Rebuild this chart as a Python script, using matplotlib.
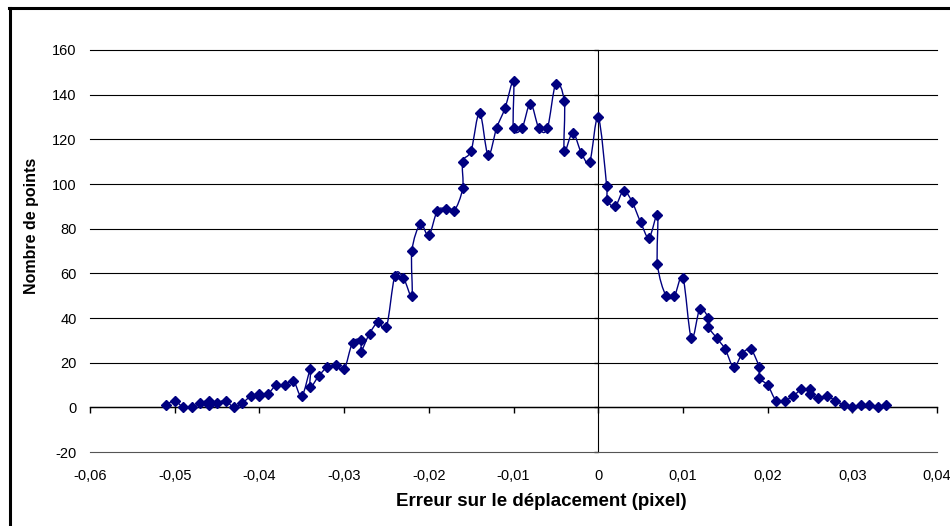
import matplotlib
matplotlib.use("Agg")
import matplotlib.pyplot as plt
from matplotlib.path import Path
from matplotlib.patches import PathPatch
from matplotlib.ticker import FuncFormatter
from matplotlib.lines import Line2D
import numpy as np

plt.rcParams['font.family'] = ['Liberation Sans', 'DejaVu Sans']

# Data
erreur = [-0.051, -0.050, -0.049, -0.048, -0.047, -0.046, -0.046, -0.045, -0.044, -0.043,
          -0.042, -0.041, -0.040, -0.040, -0.039, -0.038, -0.037, -0.036, -0.035, -0.034,
          -0.034, -0.033, -0.032, -0.031, -0.030, -0.029, -0.028, -0.028, -0.027, -0.026,
          -0.025, -0.024, -0.023, -0.022, -0.022, -0.021, -0.020, -0.019, -0.018, -0.017,
          -0.016, -0.016, -0.015, -0.014, -0.013, -0.012, -0.011, -0.010, -0.010, -0.009,
          -0.008, -0.007, -0.006, -0.005, -0.004, -0.004, -0.003, -0.002, -0.001, 0.000,
          0.001, 0.001, 0.002, 0.003, 0.004, 0.005, 0.006, 0.007, 0.007, 0.008,
          0.009, 0.010, 0.011, 0.012, 0.013, 0.013, 0.014, 0.015, 0.016, 0.017,
          0.018, 0.019, 0.019, 0.020, 0.021, 0.022, 0.023, 0.024, 0.025, 0.025,
          0.026, 0.027, 0.028, 0.029, 0.030, 0.031, 0.032, 0.033, 0.034]
nombre = [1, 3, 0, 0, 2, 3, 1, 2, 3, 0,
          2, 5, 6, 5, 6, 10, 10, 12, 5, 17,
          9, 14, 18, 19, 17, 29, 30, 25, 33, 38,
          36, 59, 58, 50, 70, 82, 77, 88, 89, 88,
          98, 110, 115, 132, 113, 125, 134, 146, 125, 125,
          136, 125, 125, 145, 137, 115, 123, 114, 110, 130,
          99, 93, 90, 97, 92, 83, 76, 86, 64, 50,
          50, 58, 31, 44, 40, 36, 31, 26, 18, 24,
          26, 18, 13, 10, 3, 3, 5, 8, 8, 6,
          4, 5, 3, 1, 0, 1, 1, 0, 1]

xticks = [-0.06, -0.05, -0.04, -0.03, -0.02, -0.01, 0.0, 0.01, 0.02, 0.03, 0.04]
yticks = [-20, 0, 20, 40, 60, 80, 100, 120, 140, 160]

fig = plt.figure(figsize=(9.5, 5.26), dpi=100)
ax = fig.add_axes([90/950, 74/526, 847/950, 402/526])
ax.set_xlim(-0.06, 0.04)
ax.set_ylim(-20, 160)

for s in ax.spines.values():
    s.set_visible(False)

# horizontal gridlines
for yv in yticks:
    ax.axhline(yv, color='#555555' if yv == -20 else 'black', lw=0.8, zorder=1, clip_on=False)

# primary ticks/labels
ax.set_xticks(xticks)
ax.set_yticks(yticks)
def fmt(v, pos):
    if abs(v) < 1e-12:
        return '0'
    return f"{v:.2f}".replace('.', ',')
ax.xaxis.set_major_formatter(FuncFormatter(fmt))
ax.yaxis.set_major_formatter(FuncFormatter(lambda v, p: f"{int(v)}"))
ax.tick_params(axis='both', length=0, labelsize=10.5, colors='black')
ax.tick_params(axis='x', pad=12)
ax.tick_params(axis='y', pad=9.5)

# secondary x axis at y=0 with tick marks
sx = ax.secondary_xaxis((0 + 20) / 180)
sx.set_xticks(xticks)
sx.xaxis.set_ticks_position('bottom')
sx.tick_params(axis='x', direction='out', length=4, width=1, labelbottom=False, labeltop=False)
sx.spines['bottom'].set_color('black')
sx.spines['bottom'].set_linewidth(1)

# secondary y axis at x=0 with tick marks
sy = ax.secondary_yaxis((0 + 0.06) / 0.1)
sy.set_yticks(yticks)
sy.yaxis.set_ticks_position('left')
sy.tick_params(axis='y', direction='out', length=3, width=1, color='#404040', labelleft=False, labelright=False)
sy.spines['left'].set_color('#606060')
sy.spines['left'].set_linewidth(1.2)

# smoothed line (Catmull-Rom style Bezier, like spreadsheet smoothing)
pts = np.column_stack([erreur, nombre]).astype(float)
n = len(pts)
verts = [tuple(pts[0])]
codes = [Path.MOVETO]
for i in range(n - 1):
    p0 = pts[i - 1] if i > 0 else pts[i]
    p1 = pts[i]
    p2 = pts[i + 1]
    p3 = pts[i + 2] if i + 2 < n else pts[i + 1]
    c1 = p1 + (p2 - p0) / 6.0
    c2 = p2 - (p3 - p1) / 6.0
    verts += [tuple(c1), tuple(c2), tuple(p2)]
    codes += [Path.CURVE4] * 3
patch = PathPatch(Path(verts, codes), facecolor='none', edgecolor='#000080', lw=1.0, zorder=3)
ax.add_patch(patch)
ax.plot(erreur, nombre, linestyle='none', marker='D', markersize=4.8,
        color='#000080', zorder=4)

ax.set_xlabel('Erreur sur le déplacement (pixel)', fontsize=13.5, fontweight='bold')
ax.set_ylabel('Nombre de points', fontsize=11.5, fontweight='bold')
ax.xaxis.set_label_coords((541 - 90) / 847, (526 - 493 - 74) / 402)
ax.yaxis.set_label_coords((39 - 90) / 847, (526 - 226 - 74) / 402)

# chart frame
fig.add_artist(Line2D([9.5/950, 9.5/950], [0, 1 - 8/526], transform=fig.transFigure, color='black', lw=2.2))
fig.add_artist(Line2D([8.5/950, 1], [1 - 8/526, 1 - 8/526], transform=fig.transFigure, color='black', lw=2.2))

fig.savefig('out.png', dpi=100)
